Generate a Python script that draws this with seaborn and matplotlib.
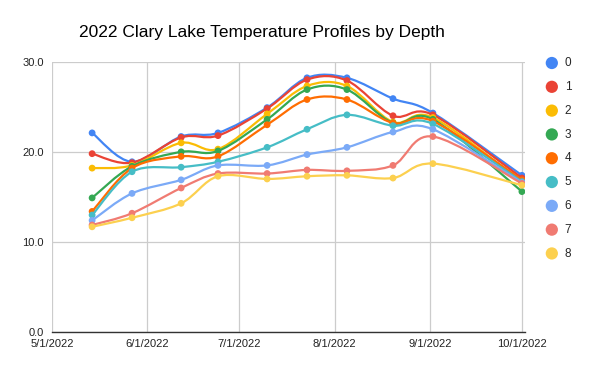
import numpy as np
import pandas as pd
import matplotlib
matplotlib.use("Agg")
import matplotlib.pyplot as plt
import matplotlib.dates as mdates
from matplotlib.path import Path
from matplotlib.patches import PathPatch
import seaborn as sns

# sample dates and temperature (C) per depth (m)
sample_dates = ["2022-05-14", "2022-05-27", "2022-06-12", "2022-06-24", "2022-07-10",
                "2022-07-23", "2022-08-05", "2022-08-20", "2022-09-02", "2022-10-01"]
depths = ["0", "1", "2", "3", "4", "5", "6", "7", "8"]

temp_0 = [22.1, 18.9, 21.7, 22.1, 24.9, 28.2, 28.2, 25.9, 24.3, 17.4]
temp_1 = [19.8, 18.8, 21.6, 21.8, 24.8, 28.0, 27.9, 24.0, 24.1, 17.1]
temp_2 = [18.2, 18.5, 21.0, 20.3, 24.2, 27.3, 27.3, 23.3, 23.8, 16.7]
temp_3 = [14.9, 18.4, 20.0, 20.1, 23.6, 26.9, 26.9, 23.2, 23.6, 15.6]
temp_4 = [13.4, 18.2, 19.5, 19.5, 23.0, 25.8, 25.8, 23.2, 23.4, 16.9]
temp_5 = [13.0, 17.8, 18.3, 18.9, 20.5, 22.5, 24.1, 22.9, 23.1, 16.7]
temp_6 = [12.4, 15.4, 16.9, 18.5, 18.5, 19.7, 20.5, 22.2, 22.5, 16.6]
temp_7 = [11.9, 13.2, 16.0, 17.6, 17.6, 18.0, 17.9, 18.5, 21.7, 16.5]
temp_8 = [11.7, 12.7, 14.3, 17.3, 17.0, 17.3, 17.4, 17.1, 18.7, 16.3]
temps = [temp_0, temp_1, temp_2, temp_3, temp_4, temp_5, temp_6, temp_7, temp_8]

colors = ["#4285F4", "#EA4335", "#FBBC04", "#34A853", "#FF6D01",
          "#46BDC6", "#7BAAF7", "#F07B72", "#FCD04F"]

month_ticks = ["2022-05-01", "2022-06-01", "2022-07-01", "2022-08-01", "2022-09-01", "2022-10-01"]
month_labels = ["5/1/2022", "6/1/2022", "7/1/2022", "8/1/2022", "9/1/2022", "10/1/2022"]
y_ticks = [0, 10, 20, 30]
y_labels = ["0.0", "10.0", "20.0", "30.0"]


# Catmull-Rom style bezier through the measured points (like the sheets "smooth" line)
def smooth_path(xs, ys):
    pts = np.column_stack([xs, ys])
    n = len(pts)
    verts = [pts[0]]
    codes = [Path.MOVETO]
    for i in range(n - 1):
        p0 = pts[i - 1] if i > 0 else pts[i]
        p1 = pts[i]
        p2 = pts[i + 1]
        p3 = pts[i + 2] if i + 2 < n else pts[i + 1]
        verts += [p1 + (p2 - p0) / 6, p2 - (p3 - p1) / 6, p2]
        codes += [Path.CURVE4] * 3
    return Path(verts, codes)


sns.set_style("white")
plt.rcParams["font.family"] = ["Liberation Sans", "DejaVu Sans"]

x_num = mdates.date2num(pd.to_datetime(sample_dates))
df = pd.DataFrame({
    "date": np.tile(x_num, len(depths)),
    "temp": np.concatenate(temps),
    "depth": np.repeat(depths, len(sample_dates)),
})

fig = plt.figure(figsize=(6, 3.71), dpi=100)
ax = fig.add_axes([0.087, 0.104, 0.788, 0.730])

for i, d in enumerate(depths):
    sub = df[df["depth"] == d]
    ax.add_patch(PathPatch(smooth_path(sub["date"].values, sub["temp"].values),
                           facecolor="none", edgecolor=colors[i], lw=1.6, zorder=3 + i))
    sns.scatterplot(data=sub, x="date", y="temp", color=colors[i], s=24,
                    edgecolor="none", label=d, zorder=3 + i, ax=ax)

ax.set_xlim(mdates.date2num(pd.Timestamp("2022-05-01")), mdates.date2num(pd.Timestamp("2022-10-02")))
ax.set_ylim(0, 30)
ax.set_xticks(mdates.date2num(pd.to_datetime(month_ticks)))
ax.set_xticklabels(month_labels)
ax.set_yticks(y_ticks)
ax.set_yticklabels(y_labels)
ax.grid(True, color="#cccccc", lw=0.9)
ax.set_axisbelow(True)
for s in ["top", "right", "left"]:
    ax.spines[s].set_visible(False)
ax.spines["bottom"].set_color("#333333")
ax.spines["bottom"].set_linewidth(1.0)
ax.spines["bottom"].set_zorder(2.5)
ax.tick_params(length=0, labelsize=8, colors="#222222")
ax.tick_params(axis="x", pad=5)
ax.tick_params(axis="y", pad=6)
ax.set_xlabel("")
ax.set_ylabel("")

ax.legend(loc="upper left", bbox_to_anchor=(0.902, 0.862), bbox_transform=fig.transFigure,
          frameon=False, fontsize=8.5, markerscale=1.8, handlelength=0.8,
          handletextpad=0.7, labelspacing=1.0, borderpad=0)

fig.text(0.436, 0.913, "2022 Clary Lake Temperature Profiles by Depth",
         ha="center", va="center", fontsize=12.5, color="#000000")

fig.savefig("out.png", dpi=100)
